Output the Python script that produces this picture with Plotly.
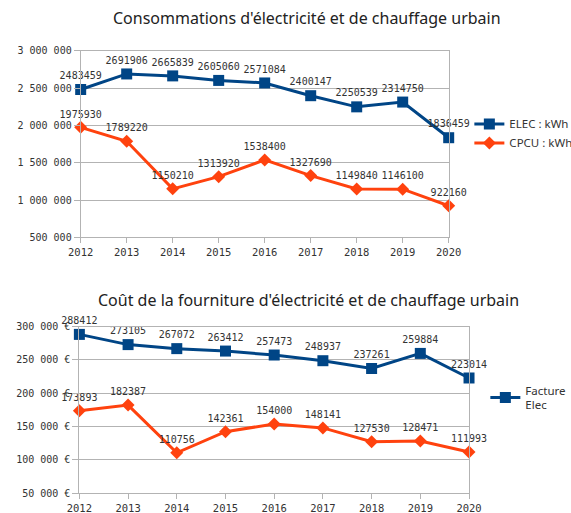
import plotly.graph_objects as go

years = [2012, 2013, 2014, 2015, 2016, 2017, 2018, 2019, 2020]
elec_kwh = [2483459, 2691906, 2665839, 2605060, 2571084, 2400147, 2250539, 2314750, 1836459]
cpcu_kwh = [1975930, 1789220, 1150210, 1313920, 1538400, 1327690, 1149840, 1146100, 922160]
elec_eur = [288412, 273105, 267072, 263412, 257473, 248937, 237261, 259884, 223014]
cpcu_eur = [173893, 182387, 110756, 142361, 154000, 148141, 127530, 128471, 111993]

title1 = "Consommations d'électricité et de chauffage urbain"
title2 = "Coût de la fourniture d'électricité et de chauffage urbain"

BLUE = "#004586"
ORANGE = "#ff420e"
GRID = "#b3b3b3"
TXT = "#333333"
MONO = "DejaVu Sans Mono"
SANS = "Noto Sans"

fig = go.Figure()

def add(x, y, name, color, symbol, size, xa, ya, legend, showlegend=True):
    fig.add_trace(go.Scatter(
        x=x, y=y, name=name, mode="lines+markers+text",
        text=[str(v) for v in y], textposition="top center",
        textfont=dict(family=MONO, size=10, color=TXT),
        line=dict(color=color, width=3),
        marker=dict(color=color, symbol=symbol, size=size),
        xaxis=xa, yaxis=ya, legend=legend, showlegend=showlegend,
        cliponaxis=False,
    ))

add(years, elec_kwh, "ELEC : kWh", BLUE, "square", 11, "x", "y", "legend")
add(years, cpcu_kwh, "CPCU : kWh", ORANGE, "diamond", 10, "x", "y", "legend")
add(years, elec_eur, "Facture<br>Elec", BLUE, "square", 11, "x2", "y2", "legend2")
add(years, cpcu_eur, "Facture CPCU", ORANGE, "diamond", 10, "x2", "y2", "legend2", showlegend=False)

xcommon = dict(range=[2012, 2020], tickmode="array", tickvals=years,
               showgrid=False, showline=True, linecolor=GRID, mirror=True,
               ticks="outside", ticklen=5, tickcolor=GRID, automargin=False,
               tickfont=dict(family=MONO, size=10.5, color=TXT), zeroline=False)
ycommon = dict(showgrid=True, gridcolor=GRID, showline=True, linecolor=GRID, mirror=True,
               ticks="outside", ticklen=6, tickcolor=GRID, zeroline=False, automargin=False,
               tickfont=dict(family=MONO, size=10, color=TXT))

fig.update_layout(
    template="none",
    width=571, height=513,
    margin=dict(l=0, r=0, t=0, b=0, autoexpand=False),
    paper_bgcolor="white", plot_bgcolor="white",
    separators=", ",
    xaxis=dict(domain=[0.1413, 0.7858], anchor="y", **xcommon),
    yaxis=dict(domain=[0.5374, 0.9006], anchor="x", range=[500000, 3000000], dtick=500000,
               tickformat=",d", **ycommon),
    xaxis2=dict(domain=[0.139, 0.8214], anchor="y2", **xcommon),
    yaxis2=dict(domain=[0.0384, 0.3632], anchor="x2", range=[50000, 300000], dtick=50000,
                tickformat=",d", ticksuffix=" €", **ycommon),
    legend=dict(x=0.822, y=0.740, xanchor="left", yanchor="middle",
                font=dict(family=SANS, size=11.5, color=TXT), itemwidth=30,
                tracegroupgap=0, bgcolor="rgba(0,0,0,0)"),
    legend2=dict(x=0.85, y=0.225, xanchor="left", yanchor="middle",
                 font=dict(family=SANS, size=11.5, color=TXT), itemwidth=30,
                 bgcolor="rgba(0,0,0,0)"),
    annotations=[
        dict(text=title1, x=0.538, y=1 - 18 / 513, xref="paper", yref="paper",
             showarrow=False, xanchor="center", yanchor="middle",
             font=dict(family=SANS, size=16, color="#222222")),
        dict(text=title2, x=0.54, y=1 - 300 / 513, xref="paper", yref="paper",
             showarrow=False, xanchor="center", yanchor="middle",
             font=dict(family=SANS, size=16, color="#222222")),
    ],
)

fig.write_html("out.html", config={"displayModeBar": False},
               post_script="document.body.style.margin='0';document.body.style.overflow='hidden';")
